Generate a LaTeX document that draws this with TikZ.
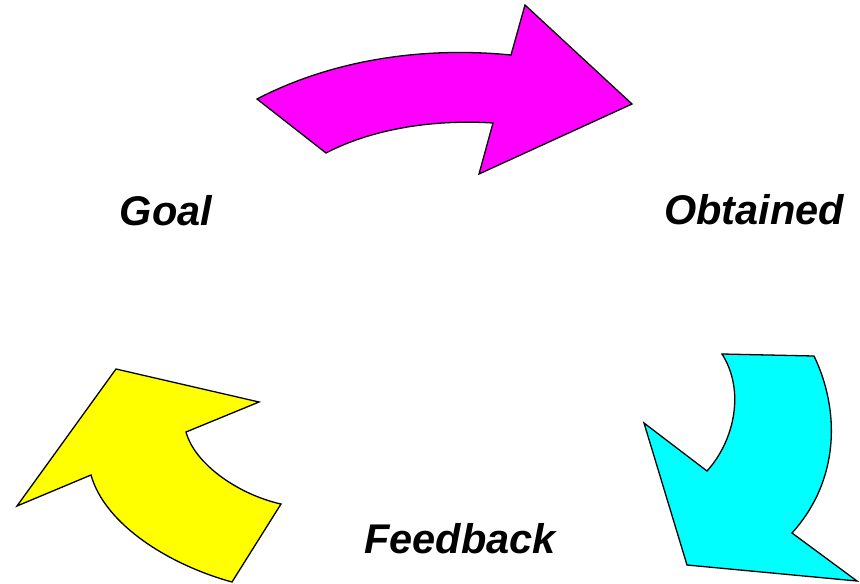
\documentclass[tikz,border=0pt]{standalone}
\usepackage{fontspec}
\setmainfont{Liberation Sans}

\definecolor{loopmagenta}{RGB}{255,0,255}
\definecolor{loopcyan}{RGB}{0,255,255}
\definecolor{loopyellow}{RGB}{255,255,0}

\tikzset{
    bigarrow/.style = {draw=black, line width=1.3pt, line join=miter},
    steplabel/.style = {anchor=base, inner sep=0pt, font=\fontsize{41.5}{48}\selectfont\bfseries\itshape}
}

\begin{document}
\begin{tikzpicture}[x=1pt, y=-1pt]

        \useasboundingbox (0, 0) rectangle (860, 584);

        % top arrow, Goal -> Obtained
        \filldraw[bigarrow, fill=loopmagenta] (257, 99) -- (326, 153)
            .. controls (370, 130) and (430, 119) .. (493, 123)
            -- (479, 174) -- (632, 104) -- (525, 5) -- (511, 55)
            .. controls (420, 46) and (330, 61) .. cycle;

        % right arrow, Obtained -> Feedback
        \filldraw[bigarrow, fill=loopcyan] (722, 354) -- (814, 356)
            .. controls (840, 410) and (840, 480) .. (792, 533)
            -- (857, 581) -- (687, 565) -- (644, 423) -- (707, 471)
            .. controls (735, 440) and (745, 390) .. cycle;

        % left arrow, Feedback -> Goal
        \filldraw[bigarrow, fill=loopyellow] (116, 369) -- (259, 402) -- (186, 432)
            .. controls (195, 465) and (240, 495) .. (281, 504)
            -- (232, 582)
            .. controls (170, 565) and (105, 525) .. (91, 475)
            -- (17, 506) -- cycle;

        \node[steplabel] (goal) at (166, 225) {Goal};
        \node[steplabel] (obtained) at (754, 224) {Obtained};
        \node[steplabel] (feedback) at (460, 553) {Feedback};

    \end{tikzpicture}
\end{document}
